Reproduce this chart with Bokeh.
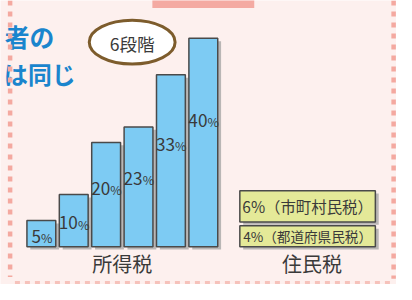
import numpy as np
from bokeh.plotting import figure
from bokeh.models import Range1d, ColumnDataSource
from bokeh.core.properties import value
from bokeh.embed import file_html
from bokeh.resources import INLINE

# ---- data ----
income_rates = [5, 10, 20, 23, 33, 40]
resident_names = ["都道府県民税", "市町村民税"]
resident_rates = [4, 6]
categories = ["所得税", "住民税"]
badge_text = "6段階"
headline = ["者の", "は同じ"]

# ---- layout helpers (reference pixel -> data units) ----
W, H = 396, 284
KS = (W / 412 + H / 300) / 2          # screen-size scale vs. the 412x300 reference
X0, DX = 42.5, 33.7   # ref px of first bar centre, ref px per slot
Y0, DY = 260.0, 5.5   # baseline ref px, ref px per percent


def X(px):
    return (px - X0) / DX


def Y(py):
    return (Y0 - py) / DY


def S(v):
    return v * KS


def fpx(v):
    return f"{S(v):.1f}px"


BG = "#fdf0ee"
BAR = "#7dcbf3"
BOX = "#e4e998"
EDGE = "#4a4a4a"
SHADOW = "#b9b6b5"
TXT = "#3a3a3a"
FONT = value("Noto Sans CJK JP")

p = figure(width=W, height=H, output_backend="svg", toolbar_location=None,
           x_range=Range1d(X(0), X(412)), y_range=Range1d(Y(300), Y(0)),
           x_axis_type=None, y_axis_type=None, min_border=0,
           background_fill_color=BG, border_fill_color=BG)
p.grid.visible = False
p.outline_line_color = None

# ---- top tab (cut by the top edge) ----
p.quad(left=[X(158)], right=[X(264)], bottom=[Y(8)], top=[Y(-5)],
       fill_color="#f4aaa2", line_color=None)

# ---- headline text ----
p.text(x=[X(56), X(78)], y=[Y(38), Y(77)], text=headline,
       text_align="right", text_baseline="middle", text_font=FONT,
       text_font_style="bold", text_font_size=[fpx(26), fpx(25)],
       text_color="#1a85cd")

# ---- income tax bars ----
idx = np.arange(len(income_rates))
rates = np.array(income_rates, dtype=float)
bw = 30 / DX
sx, sy = 3.5 / DX, 3.0 / DY
p.quad(left=idx - bw / 2 + sx, right=idx + bw / 2 + sx, bottom=-sy, top=rates - sy,
       fill_color=SHADOW, line_color=None)
p.quad(left=idx - bw / 2, right=idx + bw / 2, bottom=0, top=rates,
       fill_color=BAR, line_color=EDGE, line_width=1.5)

# percentage labels: digits + smaller "%"
fs_d, fs_p = S(18), S(13)
dw, pw = 0.53 * fs_d, 0.80 * fs_p
digits = [str(v) for v in income_rates]
offs = [(len(d) * dw - pw) / 2 for d in digits]
label_y = [max(0.654 * v - 1.93, 0.4 * v) for v in income_rates]
lab = ColumnDataSource(dict(x=idx, y=label_y, d=digits, pc=["%"] * len(digits), off=offs))
p.text(x="x", y="y", text="d", x_offset="off", source=lab,
       text_align="right", text_baseline="middle", text_font=FONT,
       text_font_size=f"{fs_d:.1f}px", text_color=TXT)
p.text(x="x", y="y", text="pc", x_offset="off", y_offset=S(2), source=lab,
       text_align="left", text_baseline="middle", text_font=FONT,
       text_font_size=f"{fs_p:.1f}px", text_color=TXT)

# ---- resident tax stacked boxes ----
xr = X(319.5)
rw = 141 / DX
gap = 4 / DY
bottoms = np.cumsum([0] + resident_rates[:-1]).astype(float) + gap * np.arange(len(resident_rates))
tops = bottoms + np.array(resident_rates, dtype=float)
p.quad(left=[xr - rw / 2 + sx] * 2, right=[xr + rw / 2 + sx] * 2,
       bottom=bottoms - sy, top=tops - sy, fill_color=SHADOW, line_color=None)
p.quad(left=[xr - rw / 2] * 2, right=[xr + rw / 2] * 2,
       bottom=bottoms, top=tops, fill_color=BOX, line_color=EDGE, line_width=1.5)
res_labels = [f"{v}%（{n}）" for v, n in zip(resident_rates, resident_names)]
p.text(x=[xr] * 2, y=(bottoms + tops) / 2, text=res_labels,
       text_align="center", text_baseline="middle", text_font=FONT,
       text_font_size=[fpx(14.3), fpx(16.1)], text_color=TXT)

# ---- category labels ----
p.text(x=[idx.mean(), X(324)], y=[Y(278)] * 2, text=categories,
       text_align="center", text_baseline="middle", text_font=FONT,
       text_font_size=fpx(21), text_color=TXT)

# ---- badge ----
p.ellipse(x=[X(137)], y=[Y(44)], width=S(90), height=S(46),
          width_units="screen", height_units="screen",
          fill_color="white", line_color="#7d5c2c", line_width=3)
p.text(x=[X(137)], y=[Y(45)], text=[badge_text], text_align="center",
       text_baseline="middle", text_font=FONT, text_font_size=fpx(18.5),
       text_color=TXT)

# ---- dashed frame ----
FRAME = "#f4a9a0"
p.line([X(10), X(10)], [Y(0), Y(292)], line_color=FRAME, line_width=4.5, line_dash="5 6")
p.line([X(409), X(409)], [Y(0), Y(294)], line_color=FRAME, line_width=4.5, line_dash="5 6")
p.line([X(15), X(409)], [Y(298), Y(298)], line_color="#f6c2bb", line_width=3, line_dash="5 5")

open("out.html", "w").write(file_html(p, INLINE))
